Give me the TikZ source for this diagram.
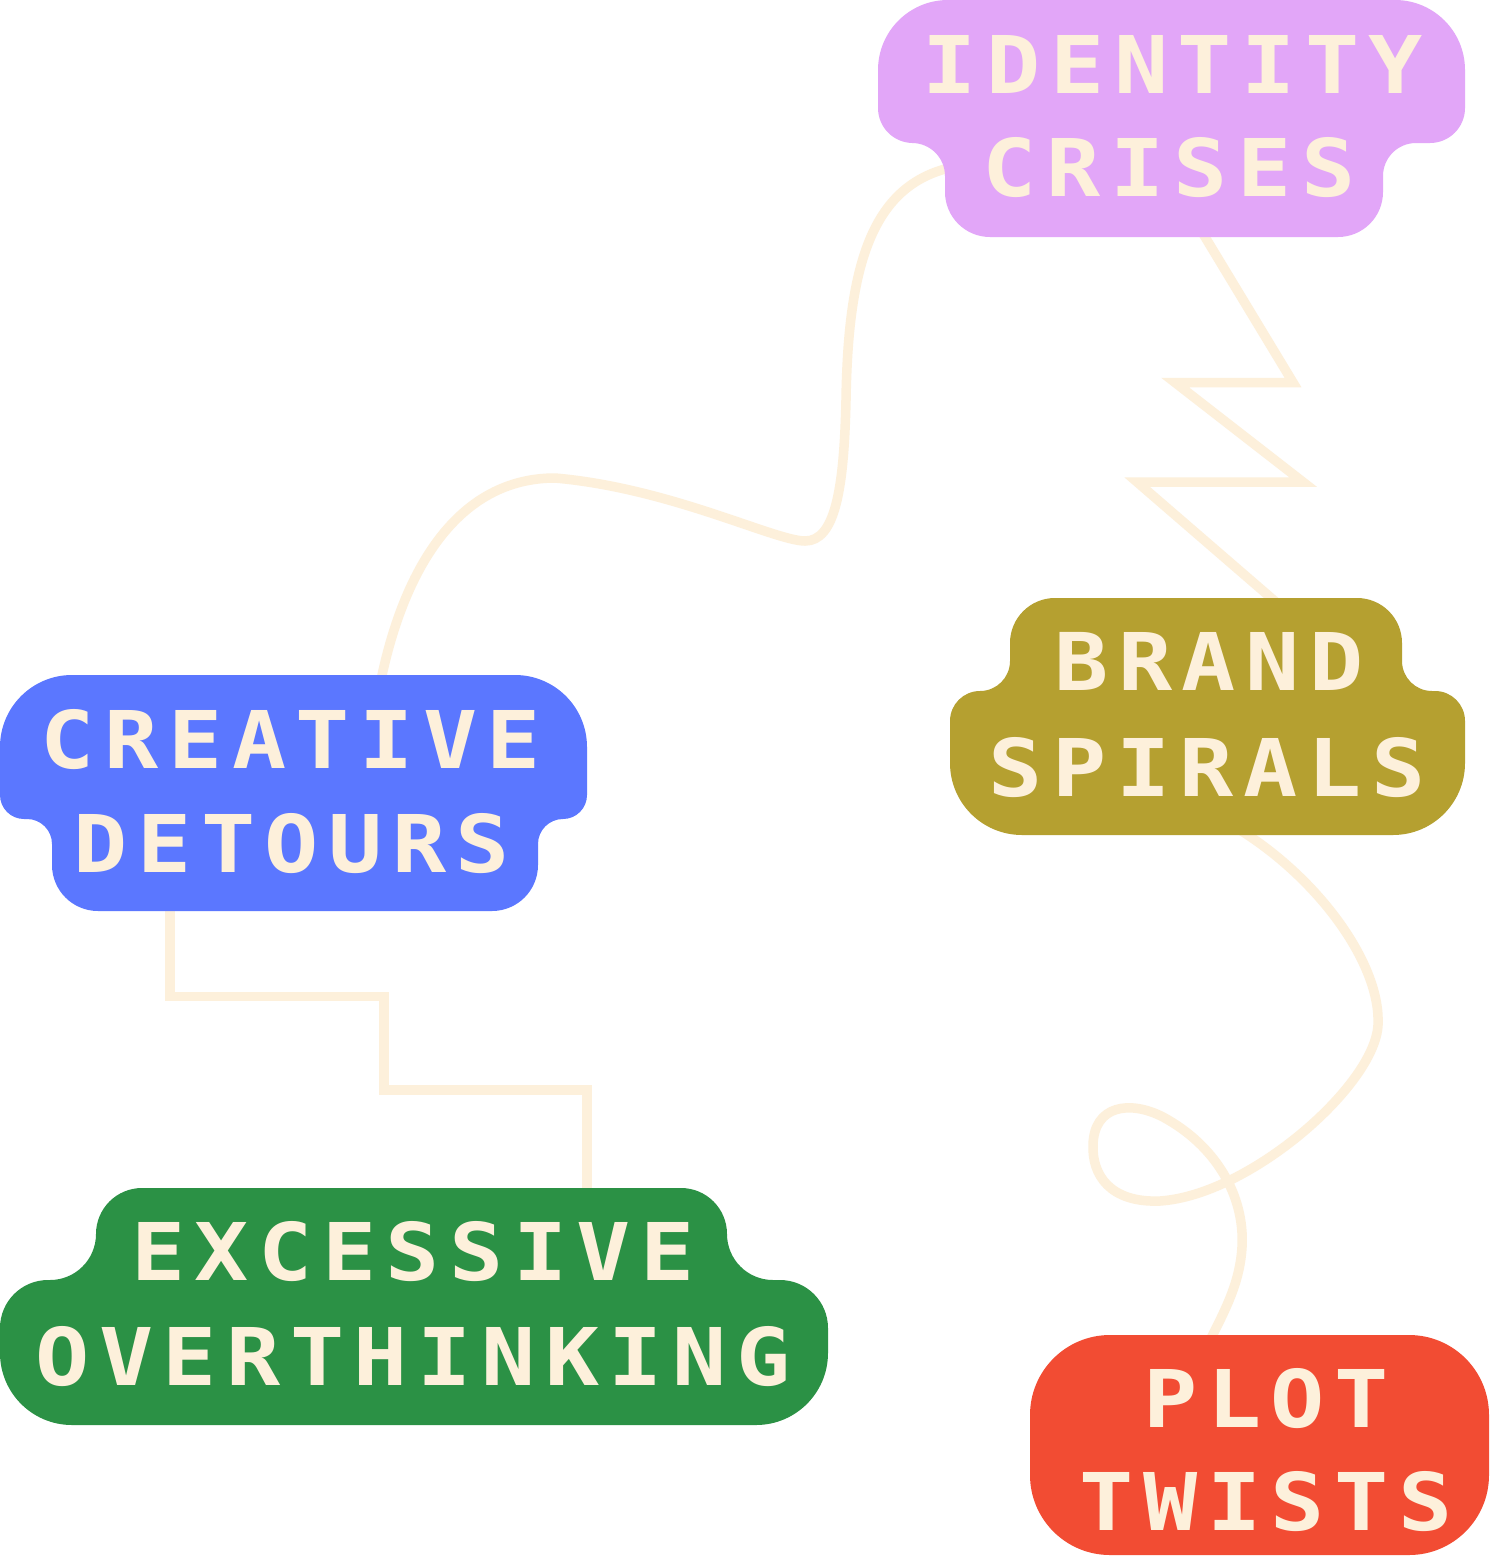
\documentclass[tikz,border=0pt]{standalone}
\usepackage{fontspec}
\newfontfamily\lblfont{DejaVu Sans Mono}[LetterSpace=12, FakeStretch=1.13]
\definecolor{cream}{HTML}{FDF0DB}
\definecolor{cpurple}{HTML}{E2A6F8}
\definecolor{cblue}{HTML}{5B77FF}
\definecolor{colive}{HTML}{B5A030}
\definecolor{cgreen}{HTML}{2B9145}
\definecolor{cred}{HTML}{F24C33}
\tikzset{
  wire/.style={draw=cream, line width=9.5pt, line join=miter, miter limit=20},
  lbl/.style={text=cream, inner sep=0pt, anchor=base, xshift=-1pt,
    font=\lblfont\bfseries\fontsize{79.6}{100}\selectfont},
}
\begin{document}
\begin{tikzpicture}[x=1pt,y=-1pt]
\useasboundingbox[fill=white] (0,0) rectangle (1489,1558);

% connector end points
\coordinate (icL) at (945,169);
\coordinate (cdT) at (381,680);
\coordinate (icB) at (1202,232);
\coordinate (bsT) at (1277,603);
\coordinate (bsB) at (1240,830);
\coordinate (ptT) at (1210,1340);
\coordinate (cdB) at (170,906);
\coordinate (eoT) at (587,1193);

% connectors
\draw[wire] (icL) .. controls (870,190) and (848,270) .. (846,400)
  .. controls (844,490) and (835,541) .. (805,541)
  .. controls (775,541) and (670,488) .. (555,478)
  .. controls (460,478) and (405,565) .. (cdT);
\draw[wire] (icB) -- (1293,382.5) -- (1175,382.5) -- (1303,482) -- (1137,482) -- (bsT);
\draw[wire] (bsB) .. controls (1320,880) and (1381,965) .. (1378,1025)
  .. controls (1375,1085) and (1250,1195) .. (1160,1201)
  .. controls (1110,1203) and (1092,1175) .. (1093,1145)
  .. controls (1094,1105) and (1130,1100) .. (1163,1117)
  .. controls (1215,1145) and (1245,1195) .. (1242,1247)
  .. controls (1240,1280) and (1228,1305) .. (ptT);
\draw[wire] (cdB) |- (384,996.5) |- (eoT |- 1090,1090) -- (eoT);

% identity crises
\fill[cpurple] (878,70) arc[start angle=180,end angle=270,radius=70]
  -- (1395,0) arc[start angle=270,end angle=360,radius=70]
  -- (1465,108) arc[start angle=0,end angle=90,radius=35]
  -- (1416,143) arc[start angle=270,end angle=180,radius=33]
  -- (1383,192) arc[start angle=0,end angle=90,radius=45]
  -- (990,237) arc[start angle=90,end angle=180,radius=45]
  -- (945,176) arc[start angle=0,end angle=-90,radius=33]
  -- (913,143) arc[start angle=90,end angle=180,radius=35]
  -- cycle;

% creative detours
\fill[cblue] (0,747) arc[start angle=180,end angle=270,radius=72]
  -- (515,675) arc[start angle=270,end angle=360,radius=72]
  -- (587,795) arc[start angle=0,end angle=90,radius=24]
  -- (563,819) arc[start angle=270,end angle=180,radius=25]
  -- (538,865) arc[start angle=0,end angle=90,radius=46]
  -- (98,911) arc[start angle=90,end angle=180,radius=46]
  -- (52,844) arc[start angle=0,end angle=-90,radius=25]
  -- (24,819) arc[start angle=90,end angle=180,radius=24]
  -- cycle;

% brand spirals
\fill[colive] (1010,643) arc[start angle=180,end angle=270,radius=45]
  -- (1357,598) arc[start angle=270,end angle=360,radius=45]
  -- (1402,661) arc[start angle=180,end angle=90,radius=30]
  -- (1435,691) arc[start angle=270,end angle=360,radius=30]
  -- (1465,763) arc[start angle=0,end angle=90,radius=72]
  -- (1022,835) arc[start angle=90,end angle=180,radius=72]
  -- (950,721) arc[start angle=180,end angle=270,radius=30]
  -- (980,691) arc[start angle=90,end angle=0,radius=30]
  -- cycle;

% excessive overthinking
\fill[cgreen] (96,1234) arc[start angle=180,end angle=270,radius=46]
  -- (681,1188) arc[start angle=270,end angle=360,radius=46]
  arc[start angle=180,end angle=90,radius=46]
  -- (780,1280) arc[start angle=270,end angle=360,radius=48]
  -- (828,1353) arc[start angle=0,end angle=90,radius=72]
  -- (72,1425) arc[start angle=90,end angle=180,radius=72]
  -- (0,1328) arc[start angle=180,end angle=270,radius=48]
  -- (50,1280) arc[start angle=90,end angle=0,radius=46]
  -- cycle;

% plot twists
\fill[cred, rounded corners=80pt] (1030,1335) rectangle (1489,1555);

% labels
\node[lbl] (ic1) at (1174,93) {IDENTITY};
\node[lbl] (ic2) at (1170,196) {CRISES};
\node[lbl] (cd1) at (292,768) {CREATIVE};
\node[lbl] (cd2) at (293,872) {DETOURS};
\node[lbl] (bs1) at (1210,690) {BRAND};
\node[lbl] (bs2) at (1208,796) {SPIRALS};
\node[lbl] (eo1) at (414,1280) {EXCESSIVE};
\node[lbl] (eo2) at (414,1385) {OVERTHINKING};
\node[lbl] (pt1) at (1267,1427) {PLOT};
\node[lbl] (pt2) at (1267,1530) {TWISTS};
\end{tikzpicture}
\end{document}
